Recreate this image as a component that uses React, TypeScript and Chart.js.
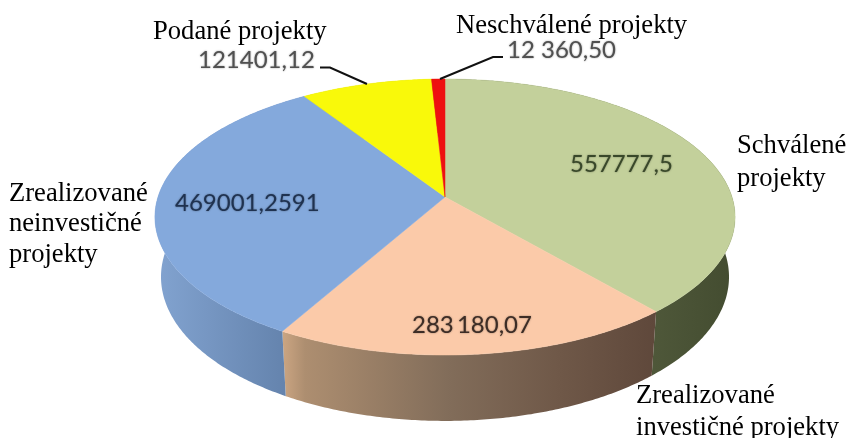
import React, { useEffect, useRef } from "react";
import { Chart, registerables } from "chart.js";

Chart.register(...registerables);

const categories = [
  "Schválené projekty",
  "Zrealizované investičné projekty",
  "Zrealizované neinvestičné projekty",
  "Podané projekty",
  "Neschválené projekty",
];
const values = [557777.5, 283180.07, 469001.2591, 121401.12, 12360.5];
const valueLabels = ["557777,5", "283 180,07", "469001,2591", "121401,12", "12 360,50"];
const faceColors = ["#c3d09b", "#fbcaa9", "#84a9dc", "#f9f90a", "#ee1010"];

// perspective projection of the unit pie disc on to the page
const TOP = { x0: 445, y0: 197, a: 287, b: 135.1, p: -0.145 };
const BOTTOM = { x0: 445, y0: 256, a: 281, b: 141, p: -0.145 };
type Proj = typeof TOP;
const project = (q: Proj, t: number): [number, number] => {
  const u = Math.cos(t);
  const v = Math.sin(t);
  const w = 1 + q.p * v;
  return [q.x0 + (q.a * u) / w, q.y0 + (q.b * v) / w];
};

const sideStops: [number, string][][] = [
  [[655, "#4e5739"], [735, "#434c30"]],
  [[283, "#cba582"], [305, "#ad8e70"], [447, "#826d5a"], [560, "#6f5848"], [655, "#5f483b"]],
  [[156, "#82a3d0"], [283, "#6584ae"]],
  [[0, "#c9c908"]],
  [[0, "#b00c0c"]],
];

const textItems: { t: string; x: number; y: number }[] = [
  { t: "Podané projekty", x: 153, y: 39 },
  { t: "Neschválené projekty", x: 456, y: 33 },
  { t: "Schválené", x: 737, y: 153 },
  { t: "projekty", x: 737, y: 185.5 },
  { t: "Zrealizované", x: 9, y: 201 },
  { t: "neinvestičné", x: 9, y: 231 },
  { t: "projekty", x: 9, y: 262 },
  { t: "Zrealizované", x: 636, y: 403 },
  { t: "investičné projekty", x: 636, y: 435 },
];
const valuePlaces = [
  { x: 570, y: 171.5, c: "#39482a", gap: "0px" },
  { x: 412, y: 333, c: "#3d2d26", gap: "-3px" },
  { x: 175, y: 211, c: "#1f3250", gap: "0px" },
  { x: 198, y: 68, c: "#505050", gap: "0px" },
  { x: 507, y: 58, c: "#505050", gap: "0px" },
];
const leaders: [number, number][][] = [
  [[320, 67.5], [330, 67.5], [367, 84]],
  [[503, 57], [493, 57], [440, 79]],
];

const pie3d = {
  id: "pie3d",
  beforeDatasetsDraw(chart: any) {
    const ctx: CanvasRenderingContext2D = chart.ctx;
    const arcs = chart.getDatasetMeta(0).data as any[];
    const colors = chart.data.datasets[0].backgroundColor as string[];
    const samples = (el: any) => {
      const n = Math.max(2, Math.ceil((el.endAngle - el.startAngle) / 0.01));
      const out: number[] = [];
      for (let i = 0; i <= n; i++) out.push(el.startAngle + ((el.endAngle - el.startAngle) * i) / n);
      return out;
    };
    ctx.save();
    arcs.forEach((el, i) => {
      const ts = samples(el);
      const g = ctx.createLinearGradient(156, 0, 735, 0);
      sideStops[i].forEach(([x, c]) => g.addColorStop(Math.max(0, (x - 156) / 579), c));
      ctx.beginPath();
      ts.forEach((t, k) => {
        const [x, y] = project(TOP, t);
        k ? ctx.lineTo(x, y) : ctx.moveTo(x, y);
      });
      [...ts].reverse().forEach((t) => {
        const [x, y] = project(BOTTOM, t);
        ctx.lineTo(x, y);
      });
      ctx.closePath();
      ctx.fillStyle = g;
      ctx.fill();
    });
    arcs.forEach((el, i) => {
      ctx.beginPath();
      ctx.moveTo(TOP.x0, TOP.y0);
      samples(el).forEach((t) => {
        const [x, y] = project(TOP, t);
        ctx.lineTo(x, y);
      });
      ctx.closePath();
      ctx.fillStyle = colors[i];
      ctx.strokeStyle = colors[i];
      ctx.lineWidth = 0.5;
      ctx.fill();
      ctx.stroke();
    });
    ctx.restore();
    return false;
  },
  afterDraw(chart: any) {
    const ctx: CanvasRenderingContext2D = chart.ctx;
    ctx.save();
    ctx.strokeStyle = "#111111";
    ctx.lineWidth = 2;
    leaders.forEach((pts) => {
      ctx.beginPath();
      pts.forEach(([x, y], k) => (k ? ctx.lineTo(x, y) : ctx.moveTo(x, y)));
      ctx.stroke();
    });
    ctx.textBaseline = "alphabetic";
    ctx.textAlign = "left";
    ctx.font = '26.6px "Liberation Serif"';
    ctx.fillStyle = "#000000";
    textItems.forEach((o) => ctx.fillText(o.t, o.x, o.y));
    ctx.font = "24px Lato";
    valueLabels.forEach((t, i) => {
      const p = valuePlaces[i];
      (ctx as any).wordSpacing = p.gap;
      ctx.shadowColor = "rgba(0,0,0,0.4)";
      ctx.shadowBlur = 2;
      ctx.fillStyle = p.c;
      ctx.fillText(t, p.x, p.y);
    });
    ctx.restore();
  },
};

export default function App() {
  const ref = useRef<HTMLCanvasElement | null>(null);
  useEffect(() => {
    const chart = new Chart(ref.current as HTMLCanvasElement, {
      type: "pie",
      data: {
        labels: categories,
        datasets: [{ data: values, backgroundColor: faceColors, borderWidth: 0 }],
      },
      options: {
        animation: false,
        responsive: false,
        plugins: { legend: { display: false }, tooltip: { enabled: false }, title: { display: false } },
      },
      plugins: [pie3d],
    } as any);
    return () => chart.destroy();
  }, []);
  return (
    <div style={{ position: "fixed", left: 0, top: 0, width: 848, height: 438, background: "#ffffff" }}>
      <canvas ref={ref} width={848} height={438} style={{ display: "block" }} />
    </div>
  );
}
